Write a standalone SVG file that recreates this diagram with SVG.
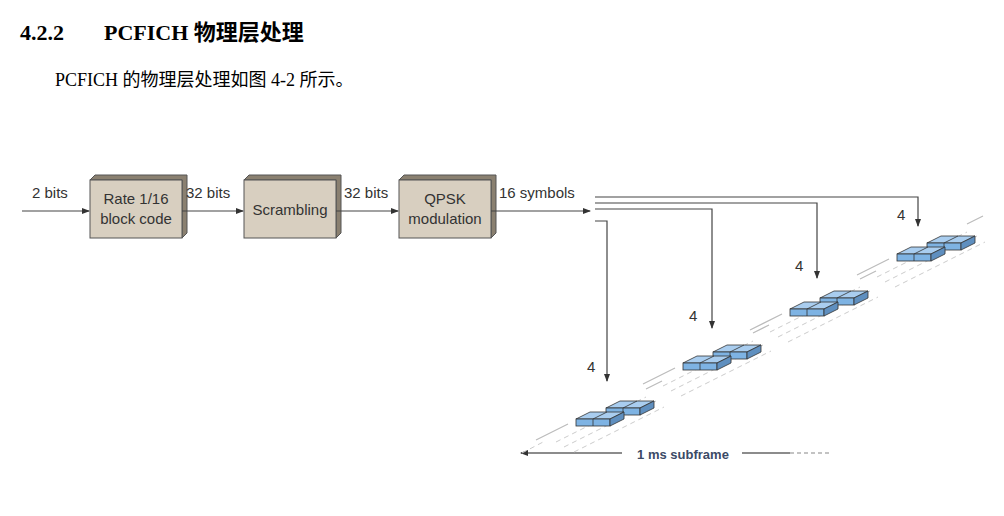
<svg xmlns="http://www.w3.org/2000/svg" width="1004" height="516" viewBox="0 0 1004 516">
<style>
.h{font-family:"Liberation Serif","Noto Sans CJK SC",serif;font-weight:bold;font-size:22px;fill:#000}
.p{font-family:"Liberation Serif","Noto Sans CJK SC",serif;font-size:18px;fill:#000}
.t{font-family:"Liberation Sans",Arial,sans-serif;font-size:15px;fill:#333}
.f{fill:#d8cfc0;stroke:#555;stroke-width:1}
.s{fill:#8a8070;stroke:#555;stroke-width:1}
.c{stroke:#444;stroke-width:1.2;fill:none}
.g{stroke:#bbb;stroke-width:1.2;fill:none}
.d{stroke:#ccc;stroke-width:1;fill:none;stroke-dasharray:5 4}
.bt{fill:#a9cdef;stroke:#333;stroke-width:0.8}
.bf{fill:#7eb3e3;stroke:#333;stroke-width:0.8}
.bs{fill:#5f8fbf;stroke:#333;stroke-width:0.8}
</style>
<defs>
<marker id="a" markerWidth="8" markerHeight="8" refX="7" refY="4" orient="auto" markerUnits="userSpaceOnUse"><path d="M0,1 L8,4 L0,7 z" fill="#333"/></marker>
<g id="slab"><path class="bt" d="M0,0 L14,-7 L48,-7 L34,0 z"/><path class="bt" d="M17,0 L31,-7" fill="none"/><rect class="bf" x="0" y="0" width="34" height="7"/><line x1="17" y1="0" x2="17" y2="7" stroke="#333" stroke-width="0.8"/><path class="bs" d="M34,0 L48,-7 L48,0 L34,7 z"/></g>
<g id="grp">
<path class="g" d="M-40,21 L-8,5 M70,-30 L86,-38"/>
<path class="d" d="M-20,23 L70,-22 M-12,28 L80,-18 M-2,33 L88,-12"/>
<use href="#slab" x="30" y="-11"/>
<use href="#slab" x="0" y="0"/>
</g>
</defs>
<text class="h" x="20" y="40">4.2.2</text>
<text class="h" x="104" y="40">PCFICH 物理层处理</text>
<text class="p" x="55" y="86">PCFICH 的物理层处理如图 4-2 所示。</text>
<g id="n1"><path class="s" d="M90,180 L95,175 L187,175 L187,233 L182,238 L182,180 z"/><rect class="f" x="90" y="180" width="92" height="58"/><text class="t" x="136" y="204" text-anchor="middle">Rate 1/16</text><text class="t" x="136" y="224" text-anchor="middle">block code</text></g>
<g id="n2"><path class="s" d="M244,180 L249,175 L341,175 L341,233 L336,238 L336,180 z"/><rect class="f" x="244" y="180" width="92" height="58"/><text class="t" x="290" y="215" text-anchor="middle">Scrambling</text></g>
<g id="n3"><path class="s" d="M399,180 L404,175 L496,175 L496,233 L491,238 L491,180 z"/><rect class="f" x="399" y="180" width="92" height="58"/><text class="t" x="445" y="204" text-anchor="middle">QPSK</text><text class="t" x="445" y="224" text-anchor="middle">modulation</text></g>
<g id="connectors">
<path class="c" d="M22,211 L89,211" marker-end="url(#a)"/>
<path class="c" d="M182,211 L243,211" marker-end="url(#a)"/>
<path class="c" d="M336,211 L398,211" marker-end="url(#a)"/>
<path class="c" d="M491,211 L590,211" marker-end="url(#a)"/>
<path class="c" stroke="#666" d="M595,197 L918,197 L918,226" marker-end="url(#a)"/>
<path class="c" stroke="#666" d="M595,203 L817,203 L817,278" marker-end="url(#a)"/>
<path class="c" stroke="#666" d="M595,209 L712,209 L712,328" marker-end="url(#a)"/>
<path class="c" stroke="#666" d="M595,221 L607,221 L607,381" marker-end="url(#a)"/>
<path stroke="#666" stroke-width="1.5" d="M622,453 L521,453" marker-end="url(#a)"/>
<path stroke="#666" stroke-width="1.5" d="M742,453 L790,453"/>
<path stroke="#888" stroke-width="1.2" stroke-dasharray="4 3" d="M790,453 L832,453"/>
<path class="d" d="M522,453 L545,441"/>
</g>
<text class="t" x="32" y="198">2 bits</text>
<text class="t" x="186" y="198">32 bits</text>
<text class="t" x="344" y="198">32 bits</text>
<text class="t" x="499" y="198">16 symbols</text>
<g style="font-size:16px"><text class="t" x="897" y="220">4</text>
<text class="t" x="795" y="271">4</text>
<text class="t" x="689" y="321">4</text>
<text class="t" x="587" y="372">4</text></g>
<use href="#grp" x="576" y="419"/>
<use href="#grp" x="683" y="363"/>
<use href="#grp" x="790" y="309"/>
<use href="#grp" x="897" y="254"/>
<text x="683" y="459" text-anchor="middle" style="font-family:'Liberation Sans',sans-serif;font-weight:bold;font-size:13px;fill:#3b4a66">1 ms subframe</text>
</svg>
